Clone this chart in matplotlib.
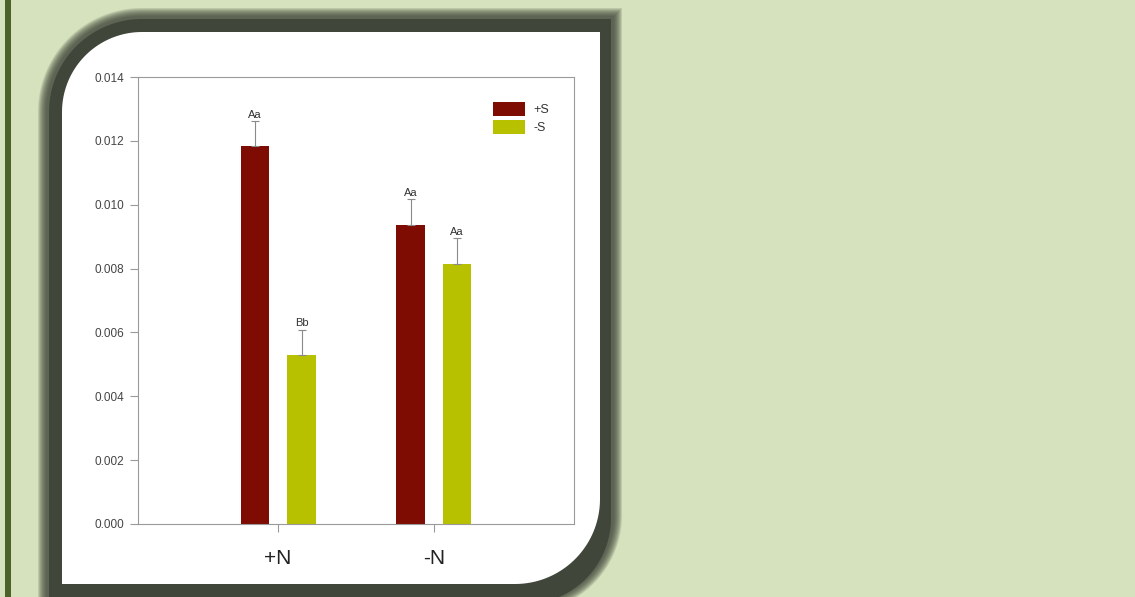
import numpy as np
import matplotlib
matplotlib.use("Agg")
import matplotlib.pyplot as plt
from matplotlib.patches import Polygon, Rectangle

plt.rcParams['font.family'] = ['Liberation Sans', 'DejaVu Sans']

# data
groups = ['+N', '-N']
plus_s = [0.01184, 0.00937]
minus_s = [0.00530, 0.00815]
plus_s_err = [0.00078, 0.00080]
minus_s_err = [0.00078, 0.00080]
plus_s_letters = ['Aa', 'Aa']
minus_s_letters = ['Bb', 'Aa']
yticks = [0.000, 0.002, 0.004, 0.006, 0.008, 0.010, 0.012, 0.014]

W, H = 1135, 597


def rounded_box(x0, y0, x1, y1, r_tl, r_br, n=40):
    """box in pixel coords (y down), round top-left and bottom-right corners"""
    pts = [(x0 + r_tl, y0), (x1, y0), (x1, y1 - r_br)]
    for t in np.linspace(0, np.pi / 2, n):
        pts.append((x1 - r_br + r_br * np.cos(t), y1 - r_br + r_br * np.sin(t)))
    pts += [(x0, y1), (x0, y0 + r_tl)]
    for t in np.linspace(np.pi, 1.5 * np.pi, n):
        pts.append((x0 + r_tl + r_tl * np.cos(t), y0 + r_tl + r_tl * np.sin(t)))
    return pts


fig = plt.figure(figsize=(W / 100, H / 100), dpi=100)
fig.patch.set_facecolor('#d6e2bd')

# decoration layer in pixel coordinates
bg = fig.add_axes([0, 0, 1, 1], zorder=0)
bg.set_xlim(0, W)
bg.set_ylim(H, 0)
bg.axis('off')
bg.add_patch(Rectangle((5, 0), 6, H, color='#4d6228', lw=0))

# soft dark frame: stack of faint shapes for the blurred edge
frame_col = '#40463a'
for k in np.arange(8, -1, -1):
    bg.add_patch(Polygon(rounded_box(46 - k, 16 - k, 614 + k, 604 + k, 96 + k, 89 + k),
                         closed=True, color=frame_col, alpha=0.16, lw=0))
bg.add_patch(Polygon(rounded_box(49, 19, 611, 604, 93, 86),
                     closed=True, color=frame_col, lw=0))
bg.add_patch(Polygon(rounded_box(62, 32, 600, 584, 80, 85),
                     closed=True, color='white', lw=0))

# chart axes
left, right, top, bottom = 138, 574, 77, 524
ax = fig.add_axes([left / W, (H - bottom) / H, (right - left) / W, (bottom - top) / H], zorder=1)
ax.set_facecolor('white')

x = np.arange(len(groups))
off = 0.15
width = 0.18
ekw = dict(ecolor='#8a8a8a', elinewidth=0.8, capsize=3, capthick=0.8)

ax.bar(x - off, plus_s, width, color='#7e0c02', label='+S',
       yerr=[[0] * len(groups), plus_s_err], error_kw=ekw)
ax.bar(x + off, minus_s, width, color='#b8c100', label='-S',
       yerr=[[0] * len(groups), minus_s_err], error_kw=ekw)

for i in range(len(groups)):
    ax.annotate(plus_s_letters[i], (x[i] - off, plus_s[i] + plus_s_err[i]),
                xytext=(0, 1), textcoords='offset points', ha='center', va='bottom',
                fontsize=8, color='#333333')
    ax.annotate(minus_s_letters[i], (x[i] + off, minus_s[i] + minus_s_err[i]),
                xytext=(0, 1), textcoords='offset points', ha='center', va='bottom',
                fontsize=8, color='#333333')

ax.set_xlim(-0.9, 1.9)
ax.set_ylim(0, 0.014)
ax.set_yticks(yticks)
ax.set_yticklabels(['%.3f' % v for v in yticks])
ax.set_xticks(x)
ax.set_xticklabels(groups)

for s in ax.spines.values():
    s.set_color('#9a9a9a')
    s.set_linewidth(0.8)

ax.tick_params(axis='y', direction='out', length=6, width=0.8, color='#9a9a9a',
               labelsize=8.5, labelcolor='#444444', pad=4)
ax.tick_params(axis='x', direction='out', length=6, width=0.8, color='#9a9a9a',
               labelsize=15, labelcolor='#222222', pad=12)

ax.legend(loc='upper left', bbox_to_anchor=(0.814, 0.944), frameon=False,
          borderpad=0, borderaxespad=0, fontsize=9, handlelength=2.6,
          handleheight=1.3, handletextpad=0.65, labelspacing=0.35,
          labelcolor='#333333')

fig.savefig('out.png', dpi=100)
